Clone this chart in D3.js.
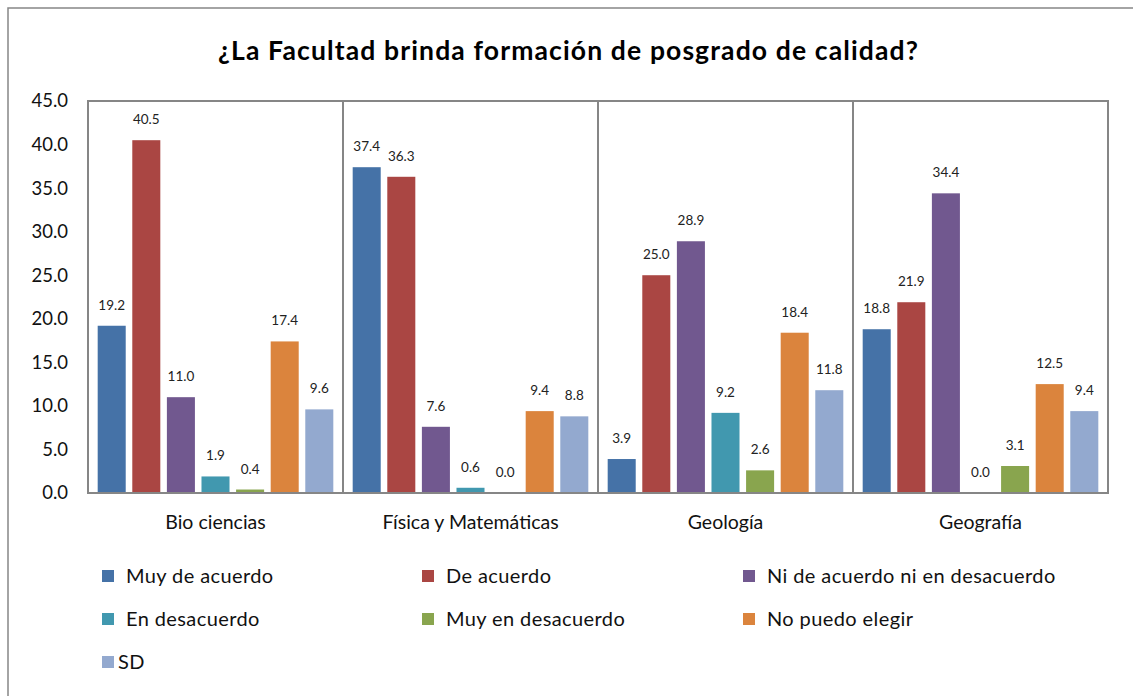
<!DOCTYPE html>
<html><head><meta charset="utf-8">
<script src="https://cdn.jsdelivr.net/npm/d3@7"></script>
<style>body{margin:0;background:#fff}svg{display:block}</style>
</head><body><svg id="c" width="1133" height="696"></svg>
<script>
const categories = ["Bio ciencias", "Física y Matemáticas", "Geología", "Geografía"];
const seriesNames = ["Muy de acuerdo", "De acuerdo", "Ni de acuerdo ni en desacuerdo", "En desacuerdo", "Muy en desacuerdo", "No puedo elegir", "SD"];
const muyDeAcuerdo = [19.2, 37.4, 3.9, 18.8];
const deAcuerdo = [40.5, 36.3, 25.0, 21.9];
const niNi = [11.0, 7.6, 28.9, 34.4];
const enDesacuerdo = [1.9, 0.6, 9.2, 0.0];
const muyEnDesacuerdo = [0.4, 0.0, 2.6, 3.1];
const noPuedoElegir = [17.4, 9.4, 18.4, 12.5];
const sd = [9.6, 8.8, 11.8, 9.4];
const yTicks = [0, 5, 10, 15, 20, 25, 30, 35, 40, 45];
const colors = ["#4572A7", "#AA4643", "#71588F", "#4198AF", "#89A54E", "#DB843D", "#93A9CF"];
const seriesValues = [muyDeAcuerdo, deAcuerdo, niNi, enDesacuerdo, muyEnDesacuerdo, noPuedoElegir, sd];

const svg = d3.select("#c");
const font = "Lato, 'Open Sans', sans-serif";
const L = 88, R = 1108, T = 101, B = 493;

// outer border
svg.append("rect").attr("x", 8).attr("y", 8).attr("width", 1140).attr("height", 700)
  .attr("fill", "none").attr("stroke", "#868686").attr("stroke-width", 1.5);

svg.append("text").attr("x", 568).attr("y", 60).attr("text-anchor", "middle")
  .attr("font-family", font).attr("font-weight", "bold").attr("font-size", 26.5).attr("fill", "#000")
  .attr("textLength", 700).attr("lengthAdjust", "spacing")
  .text("¿La Facultad brinda formación de posgrado de calidad?");

const x0 = d3.scaleBand().domain(categories).range([L, R]).padding(0);
const x1 = d3.scaleBand().domain(d3.range(seriesNames.length)).range([0, x0.bandwidth()])
  .paddingInner(0.19).paddingOuter(0.28);
const y = d3.scaleLinear().domain([0, 45]).range([B, T]);

// y axis labels
const yAxis = d3.axisLeft(y).tickValues(yTicks).tickFormat(d3.format(".1f")).tickSize(0).tickPadding(20);
const ya = svg.append("g").attr("transform", `translate(${L},0)`).call(yAxis);
ya.select(".domain").remove();
ya.selectAll("text").attr("font-family", font).attr("font-size", 18.5).attr("fill", "#111");

// bars
const groups = svg.append("g").selectAll("g").data(categories).join("g")
  .attr("transform", d => `translate(${x0(d)},0)`);
groups.each(function(cat, ci) {
  const g = d3.select(this);
  seriesValues.forEach((vals, si) => {
    const v = vals[ci];
    g.append("rect").attr("x", x1(si)).attr("width", x1.bandwidth())
      .attr("y", y(v)).attr("height", B - y(v)).attr("fill", colors[si]);
    g.append("text").attr("x", x1(si) + x1.bandwidth() / 2).attr("y", y(v) - 16)
      .attr("text-anchor", "middle").attr("font-family", font).attr("font-size", 13.5).attr("fill", "#222")
      .text(d3.format(".1f")(v));
  });
});

// plot frame and separators
svg.append("rect").attr("x", L).attr("y", T).attr("width", R - L).attr("height", B - T)
  .attr("fill", "none").attr("stroke", "#868686").attr("stroke-width", 2);
categories.slice(1).forEach(c => {
  svg.append("line").attr("x1", x0(c)).attr("x2", x0(c)).attr("y1", T).attr("y2", B)
    .attr("stroke", "#868686").attr("stroke-width", 2);
});

// category labels
const xAxis = d3.axisBottom(x0).tickSize(0).tickPadding(22);
const xa = svg.append("g").attr("transform", `translate(0,${B})`).call(xAxis);
xa.select(".domain").remove();
xa.selectAll("text").attr("font-family", font).attr("font-size", 19.5).attr("fill", "#111");

// legend
const legX = [102, 422, 743], legY = [576, 619, 662];
seriesNames.forEach((n, i) => {
  const lx = legX[i % 3], ly = legY[Math.floor(i / 3)];
  svg.append("rect").attr("x", lx).attr("y", ly - 6).attr("width", 12).attr("height", 12).attr("fill", colors[i]);
  svg.append("text").attr("x", lx + (i === 6 ? 16 : 24)).attr("y", ly + 7).attr("font-family", font)
    .attr("font-size", 20).attr("letter-spacing", 0.4).attr("fill", "#111").text(n);
});
</script></body></html>
